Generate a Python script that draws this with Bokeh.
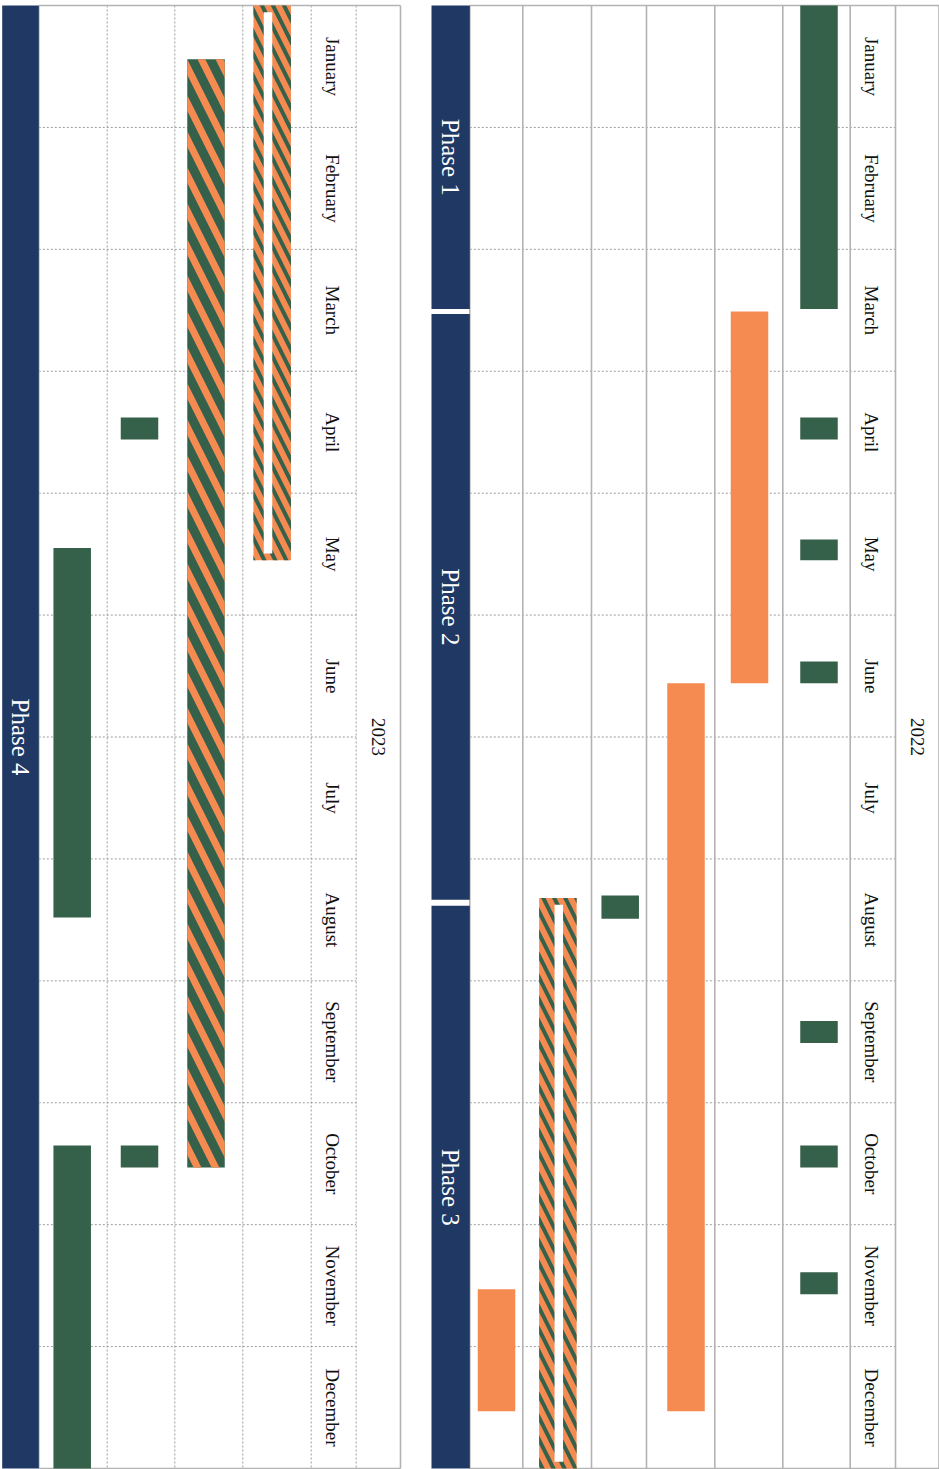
import math
from bokeh.plotting import figure
from bokeh.models import Range1d, ColumnDataSource
from bokeh.embed import file_html
from bokeh.resources import INLINE
from bokeh.core.properties import value

# ---------------- data ----------------
MONTHS = ["January", "February", "March", "April", "May", "June",
          "July", "August", "September", "October", "November", "December"]
YEARS = ["2022", "2023"]

PHASE_NAMES = ["Phase 1", "Phase 2", "Phase 3", "Phase 4"]
PHASE_YEAR = ["2022", "2022", "2022", "2023"]
PHASE_START = [0.0, 2.53, 7.385, 0.0]     # in months from January 1
PHASE_END = [2.49, 7.335, 12.0, 12.0]

TASK_YEAR = ["2022"] * 12 + ["2023"] * 6
TASK_ROW = [1, 1, 1, 1, 1, 1, 1, 2, 3, 4, 5, 6,
            1, 2, 3, 3, 4, 4]
TASK_START = [0.0, 3.38, 4.38, 5.38, 8.33, 9.35, 10.39, 2.51, 5.56, 7.30, 7.32, 10.53,
              0.0, 0.44, 3.38, 9.35, 4.45, 9.35]
TASK_END = [2.49, 3.56, 4.55, 5.56, 8.51, 9.53, 10.57, 5.56, 11.53, 7.49, 12.0, 11.53,
            4.55, 9.53, 3.56, 9.53, 7.48, 12.0]
TASK_KIND = ["green", "green", "green", "green", "green", "green", "green",
             "orange", "orange", "green", "striped", "orange",
             "striped", "dense", "green", "green", "green", "green"]

# ---------------- layout / style ----------------
GREEN = "#35604A"
ORANGE = "#F68B52"
NAVY = "#1F3864"
SOLID = "#B3B3B3"
DOT = "#9C9C9C"
FONT = "Liberation Serif"

PANEL = {
    "2022": dict(left=469.3, right=939.0, grid_right=895.0, header=(849.7, 895.0),
                 year=(895.0, 939.0), phase=(431.0, 469.3),
                 solid_v=[469.3, 522.3, 591.0, 646.0, 714.3, 782.3, 849.7, 895.0, 938.5],
                 dotted_v=[],
                 rows=[818.5, 749.0, 685.5, 619.7, 557.4, 496.0], strip=558.3),
    "2023": dict(left=38.3, right=400.0, grid_right=355.7, header=(310.7, 355.7),
                 year=(355.7, 400.0), phase=(1.7, 38.3),
                 solid_v=[38.3, 400.0],
                 dotted_v=[106.7, 174.3, 242.3, 310.7, 355.7],
                 rows=[271.7, 205.5, 139.0, 71.7], strip=267.5),
}
BAR_W = 37.5
STRIP_W = 8.5
STRIP_INSET = 0.055

p = figure(width=939, height=1469, x_range=Range1d(0, 939), y_range=Range1d(12.008, -0.041),
           output_backend="svg", toolbar_location=None, min_border=0)
p.axis.visible = False
p.grid.visible = False
p.outline_line_color = None
p.background_fill_color = "white"
p.border_fill_color = "white"

nm = len(MONTHS)

# grid lines
for yr in YEARS:
    L = PANEL[yr]
    ys = list(range(1, nm))
    p.segment(x0=[L["left"]] * len(ys), x1=[L["grid_right"]] * len(ys), y0=ys, y1=ys,
              line_color=DOT, line_width=1, line_dash="2 2")
    if L["dotted_v"]:
        n = len(L["dotted_v"])
        p.segment(x0=L["dotted_v"], x1=L["dotted_v"], y0=[0] * n, y1=[nm] * n,
                  line_color=DOT, line_width=1, line_dash="2 2")
    n = len(L["solid_v"])
    p.segment(x0=L["solid_v"], x1=L["solid_v"], y0=[0] * n, y1=[nm] * n,
              line_color=SOLID, line_width=1.6)
    p.segment(x0=[L["left"], L["left"]], x1=[L["right"], L["right"]], y0=[0, nm], y1=[0, nm],
              line_color=SOLID, line_width=1.6)

# phases
ph = dict(left=[], right=[], top=[], bottom=[], x=[], y=[], name=[])
for name, yr, s, e in zip(PHASE_NAMES, PHASE_YEAR, PHASE_START, PHASE_END):
    a, b = PANEL[yr]["phase"]
    ph["left"].append(a); ph["right"].append(b)
    ph["top"].append(s); ph["bottom"].append(e)
    ph["x"].append((a + b) / 2); ph["y"].append((s + e) / 2)
    ph["name"].append(name)
phs = ColumnDataSource(ph)
p.quad(left="left", right="right", top="top", bottom="bottom", source=phs,
       fill_color=NAVY, line_color=None)
p.text(x="x", y="y", text="name", source=phs, angle=-math.pi / 2,
       text_align="center", text_baseline="middle", text_color="white",
       text_font=value(FONT), text_font_size="25px")

# tasks
def task_source(kind):
    d = dict(left=[], right=[], top=[], bottom=[])
    for yr, r, s, e, k in zip(TASK_YEAR, TASK_ROW, TASK_START, TASK_END, TASK_KIND):
        if k != kind:
            continue
        c = PANEL[yr]["rows"][r - 1]
        d["left"].append(c - BAR_W / 2); d["right"].append(c + BAR_W / 2)
        d["top"].append(s); d["bottom"].append(e)
    return ColumnDataSource(d)

p.quad(left="left", right="right", top="top", bottom="bottom", source=task_source("green"),
       fill_color=GREEN, line_color=None)
p.quad(left="left", right="right", top="top", bottom="bottom", source=task_source("orange"),
       fill_color=ORANGE, line_color=None)
p.quad(left="left", right="right", top="top", bottom="bottom", source=task_source("dense"),
       fill_color=GREEN, line_color=None, hatch_pattern="\\", hatch_color=ORANGE,
       hatch_scale=36, hatch_weight=7)
p.quad(left="left", right="right", top="top", bottom="bottom", source=task_source("striped"),
       fill_color=ORANGE, line_color=None, hatch_pattern="\\", hatch_color=GREEN,
       hatch_scale=22, hatch_weight=4)

# white inner strip for striped tasks
st = dict(left=[], right=[], top=[], bottom=[])
for yr, r, s, e, k in zip(TASK_YEAR, TASK_ROW, TASK_START, TASK_END, TASK_KIND):
    if k != "striped":
        continue
    c = PANEL[yr]["strip"]
    st["left"].append(c - STRIP_W / 2); st["right"].append(c + STRIP_W / 2)
    st["top"].append(s + STRIP_INSET); st["bottom"].append(min(e - STRIP_INSET, nm - 0.02))
p.quad(left="left", right="right", top="top", bottom="bottom", source=ColumnDataSource(st),
       fill_color="white", line_color=None)

# month labels and year labels
mx, my, mt = [], [], []
yx, yy, yt = [], [], []
for yr in YEARS:
    a, b = PANEL[yr]["header"]
    for i, m in enumerate(MONTHS):
        mx.append((a + b) / 2 - 1.5); my.append(i + 0.5); mt.append(m)
    a, b = PANEL[yr]["year"]
    yx.append((a + b) / 2); yy.append(nm / 2); yt.append(yr)
p.text(x=mx, y=my, text=mt, angle=-math.pi / 2, text_align="center", text_baseline="middle",
       text_color="#111111", text_font=value(FONT), text_font_size="19px")
p.text(x=yx, y=yy, text=yt, angle=-math.pi / 2, text_align="center", text_baseline="middle",
       text_color="#111111", text_font=value(FONT), text_font_size="19px")

open("out.html", "w").write(file_html(p, INLINE))
